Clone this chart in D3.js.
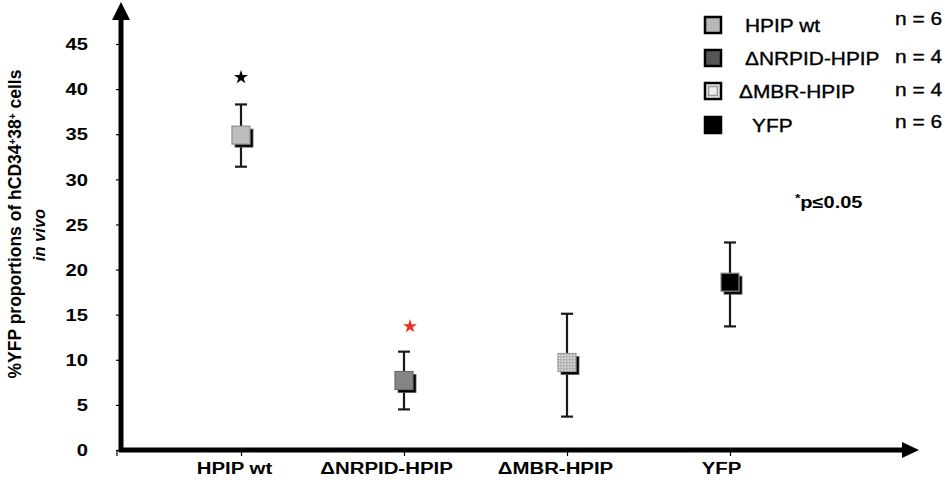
<!DOCTYPE html>
<html>
<head>
<meta charset="utf-8">
<script src="https://cdn.jsdelivr.net/npm/d3@7"></script>
<style>
  body { margin: 0; background: #fff; }
  svg { display: block; }
  text { font-family: "Liberation Sans", Arial, Helvetica, sans-serif; fill: #000; }
</style>
</head>
<body>
<svg id="chart" width="945" height="497"></svg>
<script>
// Groups, mean values and error-bar limits (% YFP+ of hCD34+38+ cells)
const categories = ["HPIP wt", "\u0394NRPID-HPIP", "\u0394MBR-HPIP", "YFP"];
const means = [34.9, 7.7, 9.7, 18.6];
const upper = [38.3, 10.9, 15.1, 23.0];
const lower = [31.4, 4.5, 3.7, 13.7];
const nValues = [6, 4, 4, 6];
const legendLabels = ["HPIP wt", "\u0394NRPID-HPIP", "\u0394MBR-HPIP", "YFP"];
// significance stars drawn above the groups
const starValues = [41.3, 13.7, null, null];
const starColors = ["#000", "#e8321e", null, null];
const yTicks = [0, 5, 10, 15, 20, 25, 30, 35, 40, 45];

const svg = d3.select("#chart");
const defs = svg.append("defs");

// wide lettering: move x/y into a transform and stretch horizontally
function widen(sel, sx) {
  sel.each(function () {
    const t = d3.select(this);
    const tx = +t.attr("x") || 0, ty = +t.attr("y") || 0;
    t.attr("x", 0).attr("y", 0).attr("transform", `translate(${tx},${ty}) scale(${sx},1)`);
  });
}

// stippled fill for the ΔMBR marker
const pat = defs.append("pattern").attr("id", "stipple")
  .attr("width", 3).attr("height", 3).attr("patternUnits", "userSpaceOnUse");
pat.append("rect").attr("width", 3).attr("height", 3).attr("fill", "#b4b4b4");
pat.append("rect").attr("x", 0.5).attr("y", 0.5).attr("width", 1.4).attr("height", 1.4).attr("fill", "#ececec");

const fills = ["#bdbdbd", "#858585", "url(#stipple)", "#000"];
const borders = ["#8e8e8e", "#6a6a6a", "#9a9a9a", "#8a8a8a"];
const legendFills = ["#b8b8b8", "#555", "#ececec", "#000"];

const originX = 121, originY = 450;
const x = d3.scalePoint().domain(categories).range([241, 730]);
const y = d3.scaleLinear().domain([0, 45]).range([originY, 44]);

// ---- y axis ticks and labels
const yAxis = svg.append("g").attr("transform", `translate(${originX},0)`)
  .call(d3.axisLeft(y).tickValues(yTicks).tickSize(5).tickPadding(28).tickFormat(d3.format("d")));
yAxis.select(".domain").remove();
yAxis.selectAll(".tick line").attr("stroke", "#000").attr("stroke-width", 1.2);
yAxis.selectAll(".tick text")
  .style("font-size", "16px").style("font-weight", "bold")
  .attr("text-anchor", "end").attr("dy", "0.36em");
widen(yAxis.selectAll(".tick text"), 1.26);

// ---- x axis ticks and labels (label boxes sit a little left of each tick)
const labelShift = [-7, -18, -12, -9];
const xAxis = svg.append("g").attr("transform", `translate(0,${originY})`)
  .call(d3.axisBottom(x).tickSize(6).tickPadding(14));
xAxis.select(".domain").remove();
xAxis.selectAll(".tick line").attr("stroke", "#000").attr("stroke-width", 1.2);
xAxis.selectAll(".tick text")
  .style("font-size", "17px").style("font-weight", "bold")
  .attr("x", (d, i) => labelShift[i]).attr("y", 24).attr("dy", 0);
widen(xAxis.selectAll(".tick text"), 1.2);
xAxis.append("line").attr("x1", originX - 4).attr("x2", originX - 4)
  .attr("y1", 0).attr("y2", 6).attr("stroke", "#000").attr("stroke-width", 1.2);

// ---- thick axis lines with arrow heads
svg.append("line").attr("x1", originX).attr("x2", originX)
  .attr("y1", originY + 2).attr("y2", 18).attr("stroke", "#000").attr("stroke-width", 5);
svg.append("path").attr("d", `M${originX},2 L${originX - 9},20 L${originX + 9},20 Z`).attr("fill", "#000");
svg.append("line").attr("x1", originX - 2).attr("x2", 904)
  .attr("y1", originY).attr("y2", originY).attr("stroke", "#000").attr("stroke-width", 5);
svg.append("path").attr("d", `M919,${originY} L902,${originY - 8} L902,${originY + 8} Z`).attr("fill", "#000");

// ---- y axis title
const yTitle = svg.append("text").attr("transform", "translate(21,224) rotate(-90)")
  .attr("text-anchor", "middle").style("font-size", "17.5px").style("font-weight", "bold");
yTitle.append("tspan").text("%YFP proportions of hCD34");
yTitle.append("tspan").attr("baseline-shift", "super").style("font-size", "10px").text("+");
yTitle.append("tspan").text("38");
yTitle.append("tspan").attr("baseline-shift", "super").style("font-size", "10px").text("+");
yTitle.append("tspan").text(" cells");
svg.append("text").attr("transform", "translate(45,235) rotate(-90)")
  .attr("text-anchor", "middle").style("font-size", "16.5px").style("font-weight", "bold")
  .style("font-style", "italic").text("in vivo");

// ---- error bars
const groups = svg.append("g").selectAll("g").data(categories).join("g");
groups.append("line")
  .attr("x1", d => x(d)).attr("x2", d => x(d))
  .attr("y1", (d, i) => y(upper[i])).attr("y2", (d, i) => y(lower[i]))
  .attr("stroke", "#1a1a1a").attr("stroke-width", 2.2);
[upper, lower].forEach(arr => {
  groups.append("line")
    .attr("x1", d => x(d) - 6).attr("x2", d => x(d) + 6)
    .attr("y1", (d, i) => y(arr[i])).attr("y2", (d, i) => y(arr[i]))
    .attr("stroke", "#1a1a1a").attr("stroke-width", 2.2);
});

// ---- markers: black drop shadow plus filled square
const s = 18;
groups.append("rect")
  .attr("x", d => x(d) - s / 2 + 3).attr("y", (d, i) => y(means[i]) - s / 2 + 3)
  .attr("width", s).attr("height", s).attr("fill", "#000")
  .attr("stroke", "#555").attr("stroke-width", 0.8);
groups.append("rect")
  .attr("x", d => x(d) - s / 2).attr("y", (d, i) => y(means[i]) - s / 2)
  .attr("width", s).attr("height", s)
  .attr("fill", (d, i) => fills[i]).attr("stroke", (d, i) => borders[i]).attr("stroke-width", 1.2);

// ---- significance stars
const star = d3.symbol().type(d3.symbolStar).size(60);
categories.forEach((c, i) => {
  if (starValues[i] == null) return;
  const dx = i === 0 ? 0 : 6;
  svg.append("path").attr("d", star())
    .attr("transform", `translate(${x(c) + dx},${y(starValues[i])})`)
    .attr("fill", starColors[i]);
});

// ---- legend
const lg = svg.append("g");
const rowY = [25, 58, 91, 125];
const textX = [745, 745, 739, 752];
const nY = [25, 63, 96, 128];
legendLabels.forEach((lab, i) => {
  lg.append("rect").attr("x", 705).attr("y", rowY[i] - 8).attr("width", 16).attr("height", 16)
    .attr("fill", legendFills[i]).attr("stroke", "#000").attr("stroke-width", 2.5);
  if (i === 2) {
    lg.append("rect").attr("x", 708.5).attr("y", rowY[i] - 4.5).attr("width", 9).attr("height", 9)
      .attr("fill", "none").attr("stroke", "#999").attr("stroke-width", 1.5);
  }
  const t = lg.append("text").attr("x", textX[i]).attr("y", rowY[i] + 7)
    .style("font-size", "18px").attr("stroke", "#000").attr("stroke-width", 0.35).text(lab);
  widen(t, 1.16);
  const n = lg.append("text").attr("x", 942 - 47).attr("y", nY[i])
    .style("font-size", "18px").attr("stroke", "#000").attr("stroke-width", 0.35)
    .text(`n = ${nValues[i]}`);
  widen(n, 1.16);
});

// ---- p-value note
const note = svg.append("text").attr("x", 795).attr("y", 208)
  .style("font-size", "16px").style("font-weight", "bold");
note.append("tspan").attr("baseline-shift", "super").style("font-size", "11px").text("*");
note.append("tspan").text("p\u22640.05");
widen(note, 1.25);
</script>
</body>
</html>
